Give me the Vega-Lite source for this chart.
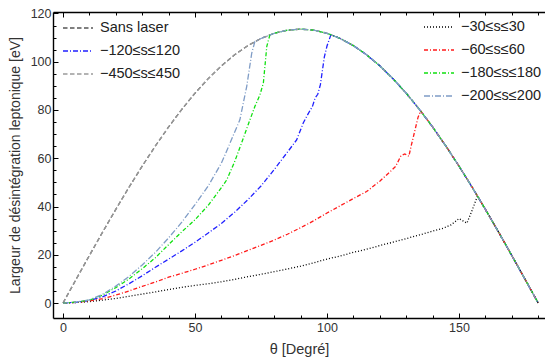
{
  "$schema": "https://vega.github.io/schema/vega-lite/v6.json",
  "width": 492,
  "height": 306,
  "autosize": {"type": "none"},
  "padding": {"left": 53, "top": 12, "right": 0, "bottom": 45},
  "config": {
    "view": {"stroke": null},
    "font": "Liberation Sans",
    "axis": {
      "domainColor": "#000000", "domainWidth": 1.4, "tickColor": "#000000", "tickWidth": 1,
      "grid": false, "labelFont": "Liberation Sans", "labelFontSize": 12.5, "labelColor": "#333333",
      "titleFont": "Liberation Sans", "titleFontSize": 14, "titleFontWeight": "normal", "titleColor": "#333333"
    },
    "legend": {
      "labelFont": "Liberation Sans", "labelFontSize": 14.5, "labelColor": "#222222",
      "symbolType": "stroke", "symbolSize": 900, "symbolStrokeWidth": 1.3, "labelOffset": 6, "padding": 0
    }
  },
  "datasets": {
    "L": [
      {"s": "Sans laser", "t": 0, "v": 0}, {"s": "Sans laser", "t": 5, "v": 9.89}, {"s": "Sans laser", "t": 10, "v": 19.71}, {"s": "Sans laser", "t": 15, "v": 29.38}, {"s": "Sans laser", "t": 20, "v": 38.82}, {"s": "Sans laser", "t": 25, "v": 47.97}, {"s": "Sans laser", "t": 30, "v": 56.75}, {"s": "Sans laser", "t": 35, "v": 65.1}, {"s": "Sans laser", "t": 40, "v": 72.96}, {"s": "Sans laser", "t": 45, "v": 80.26}, {"s": "Sans laser", "t": 50, "v": 86.95}, {"s": "Sans laser", "t": 55, "v": 92.97}, {"s": "Sans laser", "t": 60, "v": 98.29}, {"s": "Sans laser", "t": 65, "v": 102.87}, {"s": "Sans laser", "t": 70, "v": 106.66}, {"s": "Sans laser", "t": 75, "v": 109.63}, {"s": "Sans laser", "t": 80, "v": 111.78}, {"s": "Sans laser", "t": 85, "v": 113.07}, {"s": "Sans laser", "t": 90, "v": 113.5}, {"s": "Sans laser", "t": 95, "v": 113.07}, {"s": "Sans laser", "t": 100, "v": 111.78}, {"s": "Sans laser", "t": 105, "v": 109.63}, {"s": "Sans laser", "t": 110, "v": 106.66}, {"s": "Sans laser", "t": 115, "v": 102.87}, {"s": "Sans laser", "t": 120, "v": 98.29}, {"s": "Sans laser", "t": 125, "v": 92.97}, {"s": "Sans laser", "t": 130, "v": 86.95}, {"s": "Sans laser", "t": 135, "v": 80.26}, {"s": "Sans laser", "t": 140, "v": 72.96}, {"s": "Sans laser", "t": 145, "v": 65.1}, {"s": "Sans laser", "t": 150, "v": 56.75}, {"s": "Sans laser", "t": 155, "v": 47.97}, {"s": "Sans laser", "t": 160, "v": 38.82}, {"s": "Sans laser", "t": 165, "v": 29.38}, {"s": "Sans laser", "t": 170, "v": 19.71}, {"s": "Sans laser", "t": 175, "v": 9.89}, {"s": "Sans laser", "t": 180, "v": 0},
      {"s": "−450≤s≤450", "t": 0, "v": 0}, {"s": "−450≤s≤450", "t": 5, "v": 9.89}, {"s": "−450≤s≤450", "t": 10, "v": 19.71}, {"s": "−450≤s≤450", "t": 15, "v": 29.38}, {"s": "−450≤s≤450", "t": 20, "v": 38.82}, {"s": "−450≤s≤450", "t": 25, "v": 47.97}, {"s": "−450≤s≤450", "t": 30, "v": 56.75}, {"s": "−450≤s≤450", "t": 35, "v": 65.1}, {"s": "−450≤s≤450", "t": 40, "v": 72.96}, {"s": "−450≤s≤450", "t": 45, "v": 80.26}, {"s": "−450≤s≤450", "t": 50, "v": 86.95}, {"s": "−450≤s≤450", "t": 55, "v": 92.97}, {"s": "−450≤s≤450", "t": 60, "v": 98.29}, {"s": "−450≤s≤450", "t": 65, "v": 102.87}, {"s": "−450≤s≤450", "t": 70, "v": 106.66}, {"s": "−450≤s≤450", "t": 75, "v": 109.63}, {"s": "−450≤s≤450", "t": 80, "v": 111.78}, {"s": "−450≤s≤450", "t": 85, "v": 113.07}, {"s": "−450≤s≤450", "t": 90, "v": 113.5}, {"s": "−450≤s≤450", "t": 95, "v": 113.07}, {"s": "−450≤s≤450", "t": 100, "v": 111.78}, {"s": "−450≤s≤450", "t": 105, "v": 109.63}, {"s": "−450≤s≤450", "t": 110, "v": 106.66}, {"s": "−450≤s≤450", "t": 115, "v": 102.87}, {"s": "−450≤s≤450", "t": 120, "v": 98.29}, {"s": "−450≤s≤450", "t": 125, "v": 92.97}, {"s": "−450≤s≤450", "t": 130, "v": 86.95}, {"s": "−450≤s≤450", "t": 135, "v": 80.26}, {"s": "−450≤s≤450", "t": 140, "v": 72.96}, {"s": "−450≤s≤450", "t": 145, "v": 65.1}, {"s": "−450≤s≤450", "t": 150, "v": 56.75}, {"s": "−450≤s≤450", "t": 155, "v": 47.97}, {"s": "−450≤s≤450", "t": 160, "v": 38.82}, {"s": "−450≤s≤450", "t": 165, "v": 29.38}, {"s": "−450≤s≤450", "t": 170, "v": 19.71}, {"s": "−450≤s≤450", "t": 175, "v": 9.89}, {"s": "−450≤s≤450", "t": 180, "v": 0},
      {"s": "−120≤s≤120", "t": 0, "v": 0}, {"s": "−120≤s≤120", "t": 5, "v": 0.3}, {"s": "−120≤s≤120", "t": 10, "v": 1.0}, {"s": "−120≤s≤120", "t": 15, "v": 2.6}, {"s": "−120≤s≤120", "t": 20, "v": 5.0}, {"s": "−120≤s≤120", "t": 25, "v": 8.0}, {"s": "−120≤s≤120", "t": 30, "v": 11.3}, {"s": "−120≤s≤120", "t": 35, "v": 14.8}, {"s": "−120≤s≤120", "t": 40, "v": 18.2}, {"s": "−120≤s≤120", "t": 45, "v": 21.6}, {"s": "−120≤s≤120", "t": 50, "v": 25.2}, {"s": "−120≤s≤120", "t": 55, "v": 29.0}, {"s": "−120≤s≤120", "t": 60, "v": 33.0}, {"s": "−120≤s≤120", "t": 65, "v": 37.6}, {"s": "−120≤s≤120", "t": 70, "v": 42.8}, {"s": "−120≤s≤120", "t": 75, "v": 48.5}, {"s": "−120≤s≤120", "t": 80, "v": 55.3}, {"s": "−120≤s≤120", "t": 85, "v": 62.5}, {"s": "−120≤s≤120", "t": 88.5, "v": 67.6}, {"s": "−120≤s≤120", "t": 91, "v": 74.6}, {"s": "−120≤s≤120", "t": 93, "v": 78.7}, {"s": "−120≤s≤120", "t": 94.5, "v": 81.5}, {"s": "−120≤s≤120", "t": 95.5, "v": 85.0}, {"s": "−120≤s≤120", "t": 96.5, "v": 86.5}, {"s": "−120≤s≤120", "t": 97.5, "v": 90.5}, {"s": "−120≤s≤120", "t": 99, "v": 102.0}, {"s": "−120≤s≤120", "t": 100, "v": 106.5}, {"s": "−120≤s≤120", "t": 101.5, "v": 111.22}, {"s": "−120≤s≤120", "t": 105, "v": 109.63}, {"s": "−120≤s≤120", "t": 110, "v": 106.66}, {"s": "−120≤s≤120", "t": 115, "v": 102.87}, {"s": "−120≤s≤120", "t": 120, "v": 98.29}, {"s": "−120≤s≤120", "t": 125, "v": 92.97}, {"s": "−120≤s≤120", "t": 130, "v": 86.95}, {"s": "−120≤s≤120", "t": 135, "v": 80.26}, {"s": "−120≤s≤120", "t": 140, "v": 72.96}, {"s": "−120≤s≤120", "t": 145, "v": 65.1}, {"s": "−120≤s≤120", "t": 150, "v": 56.75}, {"s": "−120≤s≤120", "t": 155, "v": 47.97}, {"s": "−120≤s≤120", "t": 160, "v": 38.82}, {"s": "−120≤s≤120", "t": 165, "v": 29.38}, {"s": "−120≤s≤120", "t": 170, "v": 19.71}, {"s": "−120≤s≤120", "t": 175, "v": 9.89}, {"s": "−120≤s≤120", "t": 180, "v": 0}
    ],
    "R": [
      {"s": "−30≤s≤30", "t": 0, "v": 0}, {"s": "−30≤s≤30", "t": 5, "v": 0.2}, {"s": "−30≤s≤30", "t": 10, "v": 0.6}, {"s": "−30≤s≤30", "t": 15, "v": 1.2}, {"s": "−30≤s≤30", "t": 20, "v": 1.9}, {"s": "−30≤s≤30", "t": 25, "v": 2.8}, {"s": "−30≤s≤30", "t": 30, "v": 3.7}, {"s": "−30≤s≤30", "t": 35, "v": 4.6}, {"s": "−30≤s≤30", "t": 40, "v": 5.6}, {"s": "−30≤s≤30", "t": 45, "v": 6.5}, {"s": "−30≤s≤30", "t": 50, "v": 7.3}, {"s": "−30≤s≤30", "t": 55, "v": 8.0}, {"s": "−30≤s≤30", "t": 60, "v": 8.8}, {"s": "−30≤s≤30", "t": 65, "v": 9.8}, {"s": "−30≤s≤30", "t": 70, "v": 10.9}, {"s": "−30≤s≤30", "t": 75, "v": 11.9}, {"s": "−30≤s≤30", "t": 80, "v": 13.0}, {"s": "−30≤s≤30", "t": 85, "v": 14.1}, {"s": "−30≤s≤30", "t": 90, "v": 15.3}, {"s": "−30≤s≤30", "t": 95, "v": 16.7}, {"s": "−30≤s≤30", "t": 100, "v": 18.2}, {"s": "−30≤s≤30", "t": 105, "v": 19.5}, {"s": "−30≤s≤30", "t": 110, "v": 21.0}, {"s": "−30≤s≤30", "t": 115, "v": 22.3}, {"s": "−30≤s≤30", "t": 120, "v": 23.8}, {"s": "−30≤s≤30", "t": 125, "v": 25.2}, {"s": "−30≤s≤30", "t": 130, "v": 26.7}, {"s": "−30≤s≤30", "t": 135, "v": 28.2}, {"s": "−30≤s≤30", "t": 140, "v": 29.8}, {"s": "−30≤s≤30", "t": 144, "v": 31.0}, {"s": "−30≤s≤30", "t": 147, "v": 32.4}, {"s": "−30≤s≤30", "t": 150, "v": 35.0}, {"s": "−30≤s≤30", "t": 153, "v": 33.1}, {"s": "−30≤s≤30", "t": 155, "v": 38.5}, {"s": "−30≤s≤30", "t": 157, "v": 44.35}, {"s": "−30≤s≤30", "t": 160, "v": 38.82}, {"s": "−30≤s≤30", "t": 165, "v": 29.38}, {"s": "−30≤s≤30", "t": 170, "v": 19.71}, {"s": "−30≤s≤30", "t": 175, "v": 9.89}, {"s": "−30≤s≤30", "t": 180, "v": 0},
      {"s": "−60≤s≤60", "t": 0, "v": 0}, {"s": "−60≤s≤60", "t": 5, "v": 0.3}, {"s": "−60≤s≤60", "t": 10, "v": 0.9}, {"s": "−60≤s≤60", "t": 15, "v": 1.8}, {"s": "−60≤s≤60", "t": 20, "v": 3.3}, {"s": "−60≤s≤60", "t": 25, "v": 5.0}, {"s": "−60≤s≤60", "t": 30, "v": 6.9}, {"s": "−60≤s≤60", "t": 35, "v": 8.7}, {"s": "−60≤s≤60", "t": 40, "v": 10.7}, {"s": "−60≤s≤60", "t": 45, "v": 12.3}, {"s": "−60≤s≤60", "t": 50, "v": 14.0}, {"s": "−60≤s≤60", "t": 55, "v": 15.8}, {"s": "−60≤s≤60", "t": 60, "v": 17.7}, {"s": "−60≤s≤60", "t": 65, "v": 19.7}, {"s": "−60≤s≤60", "t": 70, "v": 21.8}, {"s": "−60≤s≤60", "t": 75, "v": 23.9}, {"s": "−60≤s≤60", "t": 80, "v": 26.1}, {"s": "−60≤s≤60", "t": 85, "v": 28.5}, {"s": "−60≤s≤60", "t": 90, "v": 31.2}, {"s": "−60≤s≤60", "t": 95, "v": 34.1}, {"s": "−60≤s≤60", "t": 100, "v": 37.3}, {"s": "−60≤s≤60", "t": 105, "v": 40.3}, {"s": "−60≤s≤60", "t": 110, "v": 43.3}, {"s": "−60≤s≤60", "t": 115, "v": 46.2}, {"s": "−60≤s≤60", "t": 120, "v": 50.5}, {"s": "−60≤s≤60", "t": 124, "v": 54.5}, {"s": "−60≤s≤60", "t": 126, "v": 56.6}, {"s": "−60≤s≤60", "t": 128, "v": 61.0}, {"s": "−60≤s≤60", "t": 129.5, "v": 61.8}, {"s": "−60≤s≤60", "t": 131, "v": 60.8}, {"s": "−60≤s≤60", "t": 132, "v": 65.6}, {"s": "−60≤s≤60", "t": 134.5, "v": 77.0}, {"s": "−60≤s≤60", "t": 135.5, "v": 79.58}, {"s": "−60≤s≤60", "t": 140, "v": 72.96}, {"s": "−60≤s≤60", "t": 145, "v": 65.1}, {"s": "−60≤s≤60", "t": 150, "v": 56.75}, {"s": "−60≤s≤60", "t": 155, "v": 47.97}, {"s": "−60≤s≤60", "t": 160, "v": 38.82}, {"s": "−60≤s≤60", "t": 165, "v": 29.38}, {"s": "−60≤s≤60", "t": 170, "v": 19.71}, {"s": "−60≤s≤60", "t": 175, "v": 9.89}, {"s": "−60≤s≤60", "t": 180, "v": 0},
      {"s": "−180≤s≤180", "t": 0, "v": 0}, {"s": "−180≤s≤180", "t": 5, "v": 0.4}, {"s": "−180≤s≤180", "t": 10, "v": 1.2}, {"s": "−180≤s≤180", "t": 15, "v": 3.3}, {"s": "−180≤s≤180", "t": 20, "v": 6.4}, {"s": "−180≤s≤180", "t": 25, "v": 10.0}, {"s": "−180≤s≤180", "t": 30, "v": 14.2}, {"s": "−180≤s≤180", "t": 35, "v": 18.8}, {"s": "−180≤s≤180", "t": 40, "v": 24.2}, {"s": "−180≤s≤180", "t": 45, "v": 29.5}, {"s": "−180≤s≤180", "t": 50, "v": 34.5}, {"s": "−180≤s≤180", "t": 55, "v": 40.5}, {"s": "−180≤s≤180", "t": 60, "v": 47.8}, {"s": "−180≤s≤180", "t": 62, "v": 51.0}, {"s": "−180≤s≤180", "t": 65, "v": 58.5}, {"s": "−180≤s≤180", "t": 68.3, "v": 68.3}, {"s": "−180≤s≤180", "t": 70.8, "v": 75.9}, {"s": "−180≤s≤180", "t": 72.7, "v": 81.5}, {"s": "−180≤s≤180", "t": 74.6, "v": 86.3}, {"s": "−180≤s≤180", "t": 75.9, "v": 91.2}, {"s": "−180≤s≤180", "t": 77.2, "v": 106.4}, {"s": "−180≤s≤180", "t": 78.4, "v": 111.2}, {"s": "−180≤s≤180", "t": 80, "v": 111.78}, {"s": "−180≤s≤180", "t": 85, "v": 113.07}, {"s": "−180≤s≤180", "t": 90, "v": 113.5}, {"s": "−180≤s≤180", "t": 95, "v": 113.07}, {"s": "−180≤s≤180", "t": 100, "v": 111.78}, {"s": "−180≤s≤180", "t": 105, "v": 109.63}, {"s": "−180≤s≤180", "t": 110, "v": 106.66}, {"s": "−180≤s≤180", "t": 115, "v": 102.87}, {"s": "−180≤s≤180", "t": 120, "v": 98.29}, {"s": "−180≤s≤180", "t": 125, "v": 92.97}, {"s": "−180≤s≤180", "t": 130, "v": 86.95}, {"s": "−180≤s≤180", "t": 135, "v": 80.26}, {"s": "−180≤s≤180", "t": 140, "v": 72.96}, {"s": "−180≤s≤180", "t": 145, "v": 65.1}, {"s": "−180≤s≤180", "t": 150, "v": 56.75}, {"s": "−180≤s≤180", "t": 155, "v": 47.97}, {"s": "−180≤s≤180", "t": 160, "v": 38.82}, {"s": "−180≤s≤180", "t": 165, "v": 29.38}, {"s": "−180≤s≤180", "t": 170, "v": 19.71}, {"s": "−180≤s≤180", "t": 175, "v": 9.89}, {"s": "−180≤s≤180", "t": 180, "v": 0},
      {"s": "−200≤s≤200", "t": 0, "v": 0}, {"s": "−200≤s≤200", "t": 5, "v": 0.4}, {"s": "−200≤s≤200", "t": 10, "v": 1.3}, {"s": "−200≤s≤200", "t": 15, "v": 3.6}, {"s": "−200≤s≤200", "t": 20, "v": 7.0}, {"s": "−200≤s≤200", "t": 25, "v": 11.0}, {"s": "−200≤s≤200", "t": 30, "v": 15.8}, {"s": "−200≤s≤200", "t": 35, "v": 21.0}, {"s": "−200≤s≤200", "t": 40, "v": 27.0}, {"s": "−200≤s≤200", "t": 45, "v": 33.5}, {"s": "−200≤s≤200", "t": 50, "v": 40.8}, {"s": "−200≤s≤200", "t": 55, "v": 48.5}, {"s": "−200≤s≤200", "t": 60, "v": 58.0}, {"s": "−200≤s≤200", "t": 62, "v": 63.0}, {"s": "−200≤s≤200", "t": 64.5, "v": 69.5}, {"s": "−200≤s≤200", "t": 67, "v": 75.9}, {"s": "−200≤s≤200", "t": 68.3, "v": 82.9}, {"s": "−200≤s≤200", "t": 69.6, "v": 89.8}, {"s": "−200≤s≤200", "t": 71.5, "v": 103.6}, {"s": "−200≤s≤200", "t": 72.7, "v": 108.4}, {"s": "−200≤s≤200", "t": 75, "v": 109.63}, {"s": "−200≤s≤200", "t": 80, "v": 111.78}, {"s": "−200≤s≤200", "t": 85, "v": 113.07}, {"s": "−200≤s≤200", "t": 90, "v": 113.5}, {"s": "−200≤s≤200", "t": 95, "v": 113.07}, {"s": "−200≤s≤200", "t": 100, "v": 111.78}, {"s": "−200≤s≤200", "t": 105, "v": 109.63}, {"s": "−200≤s≤200", "t": 110, "v": 106.66}, {"s": "−200≤s≤200", "t": 115, "v": 102.87}, {"s": "−200≤s≤200", "t": 120, "v": 98.29}, {"s": "−200≤s≤200", "t": 125, "v": 92.97}, {"s": "−200≤s≤200", "t": 130, "v": 86.95}, {"s": "−200≤s≤200", "t": 135, "v": 80.26}, {"s": "−200≤s≤200", "t": 140, "v": 72.96}, {"s": "−200≤s≤200", "t": 145, "v": 65.1}, {"s": "−200≤s≤200", "t": 150, "v": 56.75}, {"s": "−200≤s≤200", "t": 155, "v": 47.97}, {"s": "−200≤s≤200", "t": 160, "v": 38.82}, {"s": "−200≤s≤200", "t": 165, "v": 29.38}, {"s": "−200≤s≤200", "t": 170, "v": 19.71}, {"s": "−200≤s≤200", "t": 175, "v": 9.89}, {"s": "−200≤s≤200", "t": 180, "v": 0}
    ]
  },
  "layer": [
    {
      "data": {"name": "L"},
      "mark": {"type": "line", "strokeWidth": 1.3},
      "encoding": {
        "x": {"field": "t", "type": "quantitative", "scale": {"domain": [-3.79, 182.58], "nice": false, "zero": false},
          "axis": {"orient": "bottom", "title": "θ [Degré]", "titleFontSize": 14.5, "values": [0,10,20,30,40,50,60,70,80,90,100,110,120,130,140,150,160,170,180],
            "labelExpr": "datum.value % 50 === 0 ? datum.label : ''", "labelPadding": 8, "titlePadding": 9,
            "tickSize": {"condition": {"test": "datum.value % 50 === 0", "value": -5}, "value": -3}}},
        "y": {"field": "v", "type": "quantitative", "scale": {"domain": [-6.2, 120.6], "nice": false, "zero": false},
          "axis": {"title": "Largeur de désintégration leptonique [eV]", "values": [0,5,10,15,20,25,30,35,40,45,50,55,60,65,70,75,80,85,90,95,100,105,110,115,120],
            "labelExpr": "datum.value % 20 === 0 ? datum.label : ''", "labelPadding": 7, "titlePadding": 8,
            "tickSize": {"condition": {"test": "datum.value % 20 === 0", "value": -5}, "value": -3}}},
        "color": {"field": "s", "type": "nominal", "sort": null,
          "scale": {"domain": ["Sans laser", "−120≤s≤120", "−450≤s≤450"], "range": ["#555555", "#2020ff", "#9a9a9a"]},
          "legend": {"orient": "none", "legendX": 9, "legendY": 0, "title": null, "rowPadding": -3}},
        "strokeDash": {"field": "s", "type": "nominal", "sort": null,
          "scale": {"domain": ["Sans laser", "−120≤s≤120", "−450≤s≤450"], "range": [[4.5, 2.5], [5, 2, 1, 2], [4.5, 2.5]]},
          "legend": {"orient": "none", "legendX": 9, "legendY": 0, "title": null, "rowPadding": -3}}
      }
    },
    {
      "data": {"name": "R"},
      "mark": {"type": "line", "strokeWidth": 1.3},
      "encoding": {
        "x": {"field": "t", "type": "quantitative", "scale": {"domain": [-3.79, 182.58], "nice": false, "zero": false},
          "axis": {"orient": "top", "title": null, "values": [0,10,20,30,40,50,60,70,80,90,100,110,120,130,140,150,160,170,180], "labels": false,
            "tickSize": {"condition": {"test": "datum.value % 50 === 0", "value": -5}, "value": -3}}},
        "y": {"field": "v", "type": "quantitative", "scale": {"domain": [-6.2, 120.6], "nice": false, "zero": false},
          "axis": {"title": "Largeur de désintégration leptonique [eV]", "values": [0,5,10,15,20,25,30,35,40,45,50,55,60,65,70,75,80,85,90,95,100,105,110,115,120],
            "labelExpr": "datum.value % 20 === 0 ? datum.label : ''", "labelPadding": 7, "titlePadding": 8,
            "tickSize": {"condition": {"test": "datum.value % 20 === 0", "value": -5}, "value": -3}}},
        "color": {"field": "s", "type": "nominal", "sort": null,
          "scale": {"domain": ["−30≤s≤30", "−60≤s≤60", "−180≤s≤180", "−200≤s≤200"], "range": ["#000000", "#ff1a1a", "#10e010", "#7f9cc6"]},
          "legend": {"orient": "none", "legendX": 370, "legendY": -1, "title": null, "rowPadding": -5}},
        "strokeDash": {"field": "s", "type": "nominal", "sort": null,
          "scale": {"domain": ["−30≤s≤30", "−60≤s≤60", "−180≤s≤180", "−200≤s≤200"], "range": [[1, 2], [4, 2, 1, 2], [4, 2, 1, 2], [6, 2, 1, 2]]},
          "legend": {"orient": "none", "legendX": 370, "legendY": -1, "title": null, "rowPadding": -5}}
      }
    }
  ],
  "resolve": {"scale": {"color": "independent", "strokeDash": "independent"}, "axis": {"x": "independent"}}
}
